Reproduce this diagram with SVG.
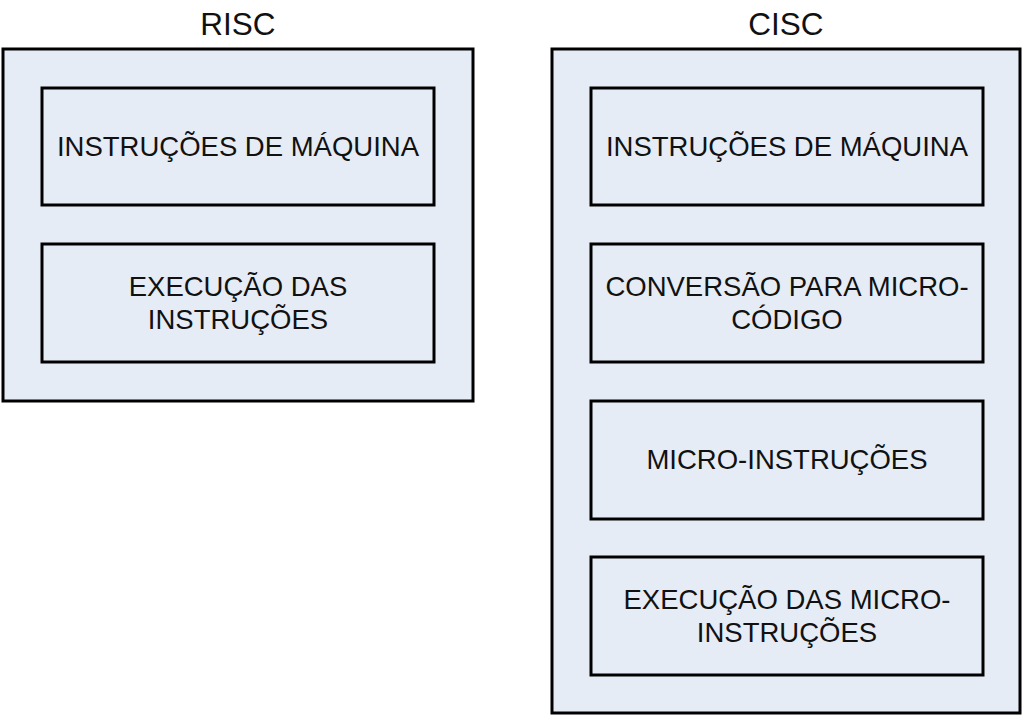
<svg xmlns="http://www.w3.org/2000/svg" width="1024" height="717" viewBox="0 0 1024 717">
<style>
.box{fill:#E6ECF6;stroke:#000;stroke-width:3}
.t{font-family:"Liberation Sans",Arial,sans-serif;font-size:27.5px;fill:#111;text-anchor:middle}
.h{font-family:"Liberation Sans",Arial,sans-serif;font-size:31.5px;fill:#111;text-anchor:middle}
</style>
<rect width="1024" height="717" fill="#fff"/>
<g id="risc">
<text class="h" x="238" y="34.5">RISC</text>
<rect class="box" x="3" y="49" width="470" height="352"/>
</g>
<g id="cisc">
<text class="h" x="786" y="34.5">CISC</text>
<rect class="box" x="552" y="49" width="468" height="664"/>
</g>
<g id="risc-instr">
<rect class="box" x="42" y="88" width="392" height="117"/>
<text class="t" x="238" y="156">INSTRUÇÕES DE MÁQUINA</text>
</g>
<g id="risc-exec">
<rect class="box" x="42" y="244" width="392" height="118"/>
<text class="t" x="238" y="295.5">EXECUÇÃO DAS</text>
<text class="t" x="238" y="328.5">INSTRUÇÕES</text>
</g>
<g id="cisc-instr">
<rect class="box" x="591" y="88" width="392" height="117"/>
<text class="t" x="787" y="156">INSTRUÇÕES DE MÁQUINA</text>
</g>
<g id="cisc-conv">
<rect class="box" x="591" y="244" width="392" height="118"/>
<text class="t" x="787" y="295.5">CONVERSÃO PARA MICRO-</text>
<text class="t" x="787" y="328.5">CÓDIGO</text>
</g>
<g id="cisc-micro">
<rect class="box" x="591" y="401" width="392" height="118"/>
<text class="t" x="787" y="469">MICRO-INSTRUÇÕES</text>
</g>
<g id="cisc-exec">
<rect class="box" x="591" y="557" width="392" height="118"/>
<text class="t" x="787" y="608.5">EXECUÇÃO DAS MICRO-</text>
<text class="t" x="787" y="641.5">INSTRUÇÕES</text>
</g>
<g id="connectors"></g>
</svg>
